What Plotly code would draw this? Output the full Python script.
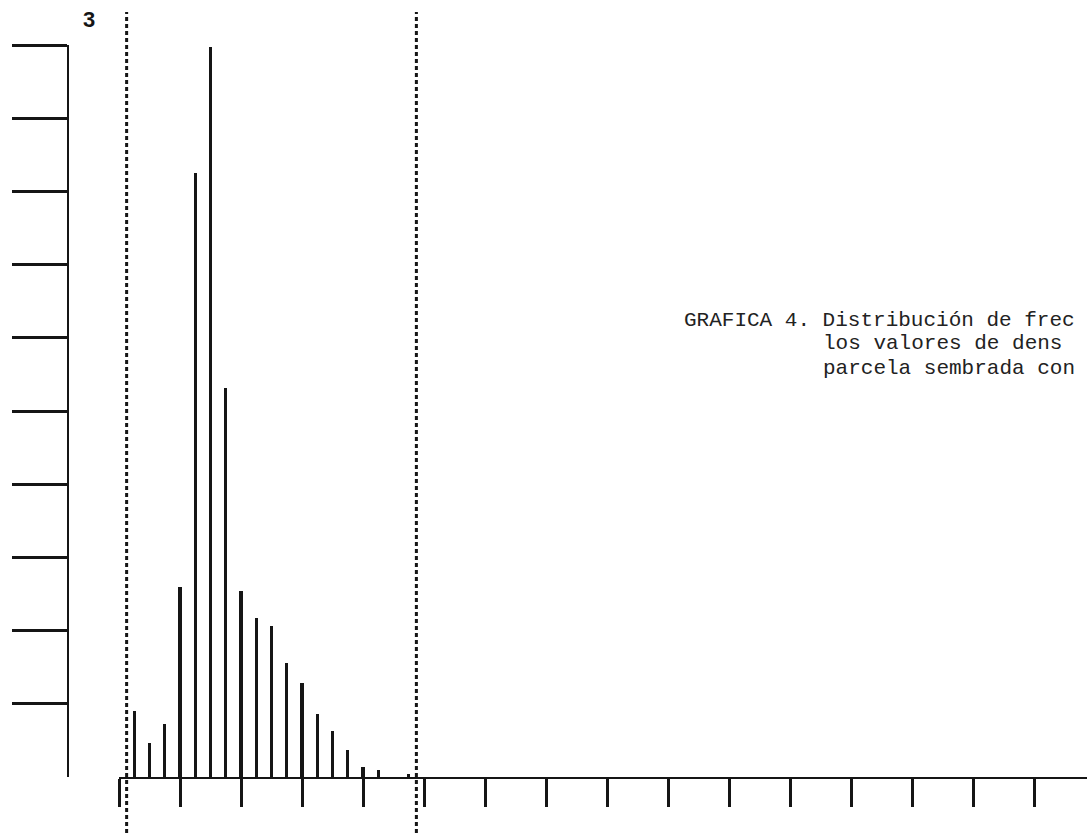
import plotly.graph_objects as go

# Class index along the horizontal axis (4 classes per major tick)
classes = list(range(1, 20))
# Relative frequency (top tick = 3)
freq = [0.27, 0.138, 0.216, 0.78, 2.475, 2.99, 1.594, 0.762, 0.65, 0.62,
        0.466, 0.384, 0.258, 0.189, 0.111, 0.043, 0.029, 0.0, 0.012]
# Boundaries of the observed range (dashed lines)
limits = [0.5, 19.5]
x_ticks = list(range(0, 61, 4))
y_ticks = [0.3, 0.6, 0.9, 1.2, 1.5, 1.8, 2.1, 2.4, 2.7, 3.0]
y_top_label = "3"
# Caption as visible in the (cropped) reference
caption = ["GRAFICA 4. Distribución de frec",
           "los valores de dens",
           "parcela sembrada con"]

W, H = 1087, 833
L, T, B = 68, 45, 56
plot_w, plot_h = W - L, H - T - B
x0_px = 119
px_per_class = 15.25

def px_x(px):
    return (px - L) / plot_w

def px_y(py):
    return (H - B - py) / plot_h

ink = "#151515"

fig = go.Figure()
fig.add_trace(go.Bar(x=classes, y=freq, width=0.22,
                     marker=dict(color=ink, line=dict(width=0)),
                     showlegend=False, hoverinfo="skip"))

for xv in limits:
    fig.add_shape(type="line", xref="x", yref="paper", x0=xv, x1=xv,
                  y0=px_y(833), y1=px_y(12),
                  line=dict(color=ink, width=3, dash="4px,3px"))

fig.add_annotation(xref="paper", yref="paper", x=px_x(89), y=px_y(20),
                   text="<b>" + y_top_label + "</b>", showarrow=False,
                   font=dict(family="Liberation Sans, Arial", size=22, color=ink),
                   xanchor="center", yanchor="middle")

cap_x = 683
font_size = 21
pitch = 0.6 * font_size
cap_y = [320, 344, 368]
for i, line in enumerate(caption):
    xs = cap_x if i == 0 else cap_x + 11 * pitch
    fig.add_annotation(xref="paper", yref="paper", x=px_x(xs), y=px_y(cap_y[i]),
                       text=line, showarrow=False, borderpad=0,
                       font=dict(family="Courier New, Liberation Mono, monospace",
                                 size=font_size, color="#222222"),
                       xanchor="left", yanchor="middle")

fig.update_layout(
    width=W, height=H,
    margin=dict(l=L, r=0, t=T, b=B),
    paper_bgcolor="white", plot_bgcolor="white",
    bargap=0,
    xaxis=dict(domain=[px_x(x0_px), 1],
               range=[0, (W - x0_px) / px_per_class],
               showgrid=False, zeroline=False,
               showline=True, linecolor=ink, linewidth=2,
               ticks="outside", tickvals=x_ticks, ticklen=28, tickwidth=2.5,
               tickcolor=ink, showticklabels=False),
    yaxis=dict(anchor="free", position=0, domain=[0, 1],
               range=[0, 3.0],
               showgrid=False, zeroline=False,
               showline=True, linecolor=ink, linewidth=2,
               ticks="outside", tickvals=y_ticks, ticklen=55, tickwidth=2.5,
               tickcolor=ink, showticklabels=False),
)

fig.write_html("out.html", config={"displayModeBar": False},
               post_script="document.body.style.margin='0px';")
